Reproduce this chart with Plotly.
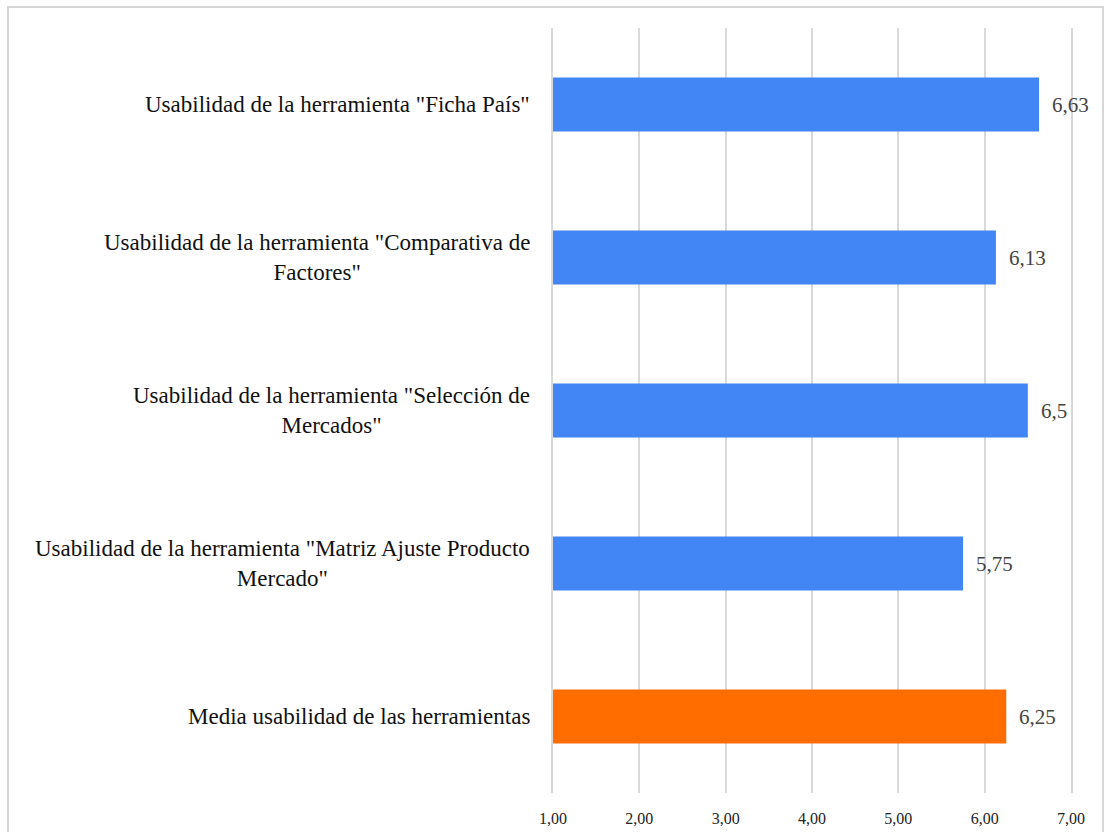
import plotly.graph_objects as go

categories = [
    'Usabilidad de la herramienta "Ficha País"',
    'Usabilidad de la herramienta "Comparativa de<br>Factores"',
    'Usabilidad de la herramienta "Selección de<br>Mercados"',
    'Usabilidad de la herramienta "Matriz Ajuste Producto<br>Mercado"',
    'Media usabilidad de las herramientas',
]
values = [6.63, 6.13, 6.5, 5.75, 6.25]
value_labels = ["6,63", "6,13", "6,5", "5,75", "6,25"]
bar_colors = ["#4285F4", "#4285F4", "#4285F4", "#4285F4", "#FF6D01"]
tick_vals = [1, 2, 3, 4, 5, 6, 7]
tick_text = ["1,00", "2,00", "3,00", "4,00", "5,00", "6,00", "7,00"]

SERIF = "Liberation Serif, Times New Roman, serif"
GRID = "#d9d9d9"

fig = go.Figure()
fig.add_trace(go.Bar(
    y=categories, x=values, orientation="h",
    marker=dict(color=bar_colors, line=dict(width=0)),
    hoverinfo="skip",
))

annotations = []
for cat, v, lab in zip(categories, values, value_labels):
    annotations.append(dict(
        x=v, y=cat, xref="x", yref="y", text=lab, showarrow=False,
        xanchor="left", xshift=11,
        font=dict(family=SERIF, size=21, color="#444444"),
    ))
    annotations.append(dict(
        x=1, y=cat, xref="x", yref="y", text=cat, showarrow=False,
        xanchor="right", xshift=-21, align="center",
        font=dict(family=SERIF, size=23, color="#111111"),
    ))

fig.update_layout(
    width=1109, height=832,
    margin=dict(l=553, r=38, t=28, b=39, autoexpand=False),
    paper_bgcolor="white", plot_bgcolor="white",
    showlegend=False,
    bargap=0.646,
    annotations=annotations,
    shapes=[dict(
        type="rect", xref="paper", yref="paper",
        x0=(8 - 553) / 518, x1=(1103 - 553) / 518,
        y0=-0.07, y1=(793 - 7) / 765,
        line=dict(color="#d6d6d6", width=2), fillcolor="rgba(0,0,0,0)",
        layer="below",
    )],
    xaxis=dict(
        range=[1, 7], tickvals=tick_vals, ticktext=tick_text,
        showgrid=True, gridcolor=GRID, gridwidth=1.5,
        zeroline=False, showline=False, ticks="",
        ticklabelstandoff=14, automargin=False,
        tickfont=dict(family=SERIF, size=16, color="#222222"),
        fixedrange=True,
    ),
    yaxis=dict(
        autorange="reversed", showticklabels=False, showgrid=False,
        zeroline=False, showline=True, mirror=True,
        linecolor=GRID, linewidth=1.5, layer="below traces",
        ticks="", fixedrange=True, automargin=False,
    ),
)

fig.write_html("out.html")
